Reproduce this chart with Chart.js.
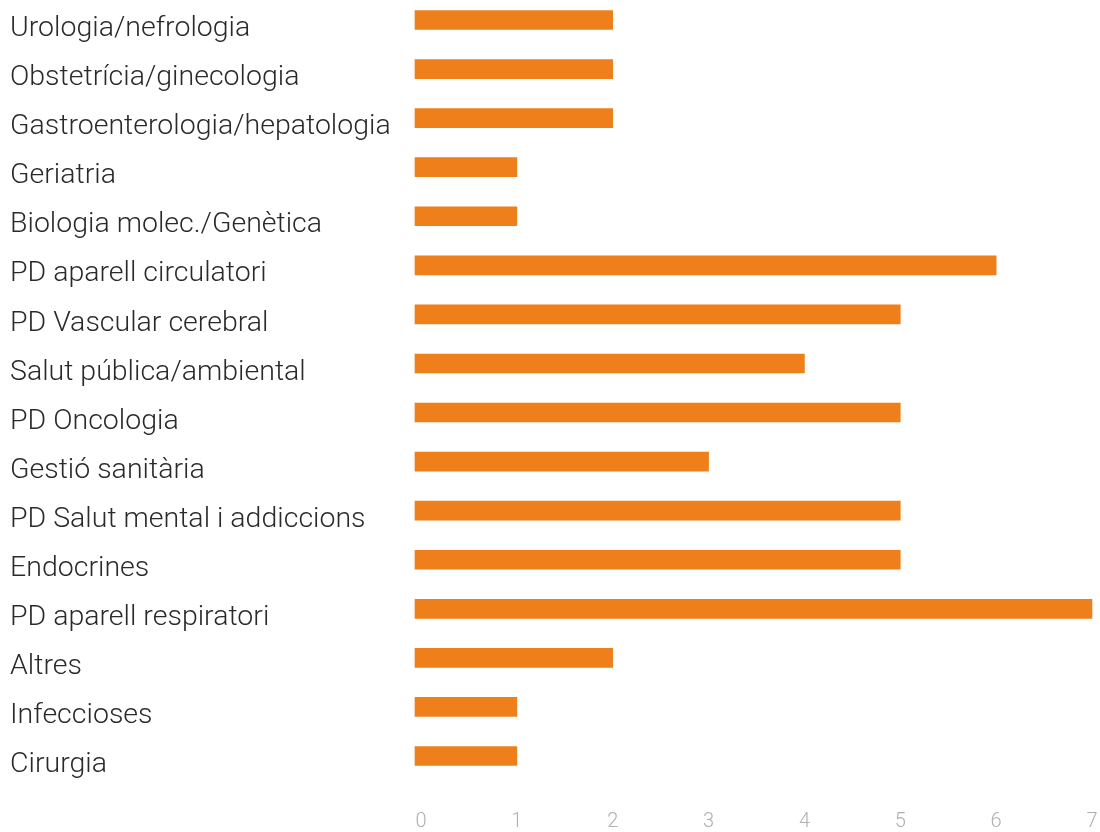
<!DOCTYPE html>
<html>
<head>
<meta charset="utf-8">
<script src="https://cdn.jsdelivr.net/npm/chart.js@4"></script>
<style>
    html, body { margin: 0; padding: 0; background: #fff; overflow: hidden; }
    canvas { display: block; }
</style>
</head>
<body>
<canvas id="specialitiesChart" width="1100" height="832"></canvas>
<script>
// Categories, top to bottom
const categories = [
    'Urologia/nefrologia',
    'Obstetrícia/ginecologia',
    'Gastroenterologia/hepatologia',
    'Geriatria',
    'Biologia molec./Genètica',
    'PD aparell circulatori',
    'PD Vascular cerebral',
    'Salut pública/ambiental',
    'PD Oncologia',
    'Gestió sanitària',
    'PD Salut mental i addiccions',
    'Endocrines',
    'PD aparell respiratori',
    'Altres',
    'Infeccioses',
    'Cirurgia'
];

const counts = [2, 2, 2, 1, 1, 6, 5, 4, 5, 3, 5, 5, 7, 2, 1, 1];

const xTicks = [0, 1, 2, 3, 4, 5, 6, 7];

// bars start a little to the left of the zero tick
const axisStart = -0.0625;

window.addEventListener('load', function() {
    const ctx = document.getElementById('specialitiesChart');
    new Chart(ctx, {
        type: 'bar',
        data: {
            labels: categories,
            datasets: [{
                data: counts,
                base: axisStart,
                backgroundColor: '#ef7f1a',
                borderWidth: 0,
                barThickness: 19,
                clip: false
            }]
        },
        options: {
            indexAxis: 'y',
            responsive: false,
            animation: false,
            layout: {
                padding: { left: 10, right: 8, top: 20, bottom: 0 }
            },
            plugins: {
                legend: { display: false },
                tooltip: { enabled: false }
            },
            scales: {
                y: {
                    offset: false,
                    grid: { display: false, drawTicks: false },
                    border: { display: false },
                    ticks: {
                        crossAlign: 'far',
                        labelOffset: 9,
                        padding: 0,
                        color: '#2a2a2a',
                        font: { family: 'Roboto, "Liberation Sans", sans-serif', size: 28.5, weight: 300, lineHeight: 1 }
                    },
                    afterFit: function(scale) {
                        scale.width = 405;
                    }
                },
                x: {
                    min: axisStart,
                    max: 7,
                    // invisible tick marks push the labels down to the bottom edge
                    grid: {
                        display: true,
                        drawOnChartArea: false,
                        drawTicks: true,
                        tickLength: 56,
                        color: 'rgba(0,0,0,0)'
                    },
                    border: { display: false },
                    afterBuildTicks: function(scale) {
                        scale.ticks = xTicks.map(v => ({ value: v }));
                    },
                    ticks: {
                        padding: 0,
                        color: '#b0b0b0',
                        font: { family: 'Roboto, "Liberation Sans", sans-serif', size: 20, weight: 300, lineHeight: 1 }
                    }
                }
            }
        }
    });
});
</script>
</body>
</html>
